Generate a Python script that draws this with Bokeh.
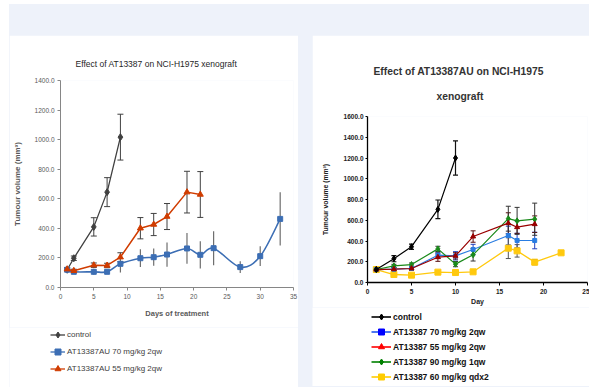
import numpy as np
from bokeh.plotting import figure
from bokeh.models import (Range1d, Legend, LegendItem, Whisker, TeeHead, ColumnDataSource,
                          Title, Spacer, FixedTicker, NumeralTickFormatter)
from bokeh.layouts import row, column
from bokeh.embed import file_html
from bokeh.resources import INLINE

# ---------------- data: left chart ----------------
l_days_ctrl = [1, 2, 5, 7, 9]
l_ctrl = [120, 198, 410, 645, 1017]
l_ctrl_err = [10, 15, 62, 98, 155]

l_days_70 = [1, 2, 5, 7, 9, 12, 14, 16, 19, 21, 23, 27, 30, 33]
l_70 = [120, 106, 106, 106, 160, 198, 205, 223, 264, 221, 266, 138, 212, 464]
l_70_err = [8, 10, 20, 12, 58, 60, 58, 82, 104, 92, 115, 40, 67, 180]

l_days_55 = [1, 2, 5, 7, 9, 12, 14, 16, 19, 21]
l_55 = [124, 113, 151, 149, 205, 401, 426, 480, 645, 629]
l_55_err = [10, 10, 15, 15, 30, 72, 75, 88, 141, 155]

l_title = "Effect of AT13387 on NCI-H1975 xenograft"
l_labels = ["control", "AT13387AU 70 mg/kg 2qw", "AT13387AU 55 mg/kg 2qw"]
l_yticks = [0, 200, 400, 600, 800, 1000, 1200, 1400]
l_xticks = [0, 5, 10, 15, 20, 25, 30, 35]

# ---------------- data: right chart ----------------
r_days_ctrl = [1, 3, 5, 8, 10]
r_ctrl = [125, 230, 345, 705, 1200]
r_ctrl_err = [10, 30, 25, 90, 165]

r_days = [1, 3, 5, 8, 10, 12, 16, 17, 19]
r_70 = [125, 128, 135, 263, 257, 318, 453, 405, 405]
r_70_err = [10, 15, 15, 30, 40, 50, 90, 70, 80]
r_55 = [125, 128, 135, 244, 257, 443, 572, 533, 562]
r_55_err = [10, 15, 15, 40, 30, 55, 100, 60, 80]
r_90 = [125, 160, 173, 324, 177, 267, 615, 594, 610]
r_90_err = [10, 15, 15, 25, 25, 60, 120, 130, 155]

r_days_60 = [1, 3, 5, 8, 10, 12, 16, 17, 19, 22]
r_60 = [125, 77, 71, 100, 96, 103, 331, 305, 196, 286]
r_60_err = [10, 10, 10, 10, 10, 10, 100, 60, 25, 10]

r_title = ["Effect of AT13387AU on NCI-H1975", "xenograft"]
r_labels = ["control", "AT13387 70 mg/kg 2qw", "AT13387 55 mg/kg 2qw",
            "AT13387 90 mg/kg 1qw", "AT13387 60 mg/kg qdx2"]
r_yticks = [0, 200, 400, 600, 800, 1000, 1200, 1400, 1600]
r_xticks = [0, 5, 10, 15, 20, 25]

FONT = "Liberation Sans"
BG = "#EEF2FA"


def err_source(x, y, e):
    y = np.array(y, dtype=float)
    e = np.array(e, dtype=float)
    return ColumnDataSource(dict(x=x, y=y, lo=y - e, hi=y + e))


def add_whisker(p, src, color, head=5, width=1):
    w = Whisker(base="x", lower="lo", upper="hi", source=src, dimension="height",
                line_color=color, line_width=width,
                upper_head=TeeHead(size=head, line_color=color, line_width=width),
                lower_head=TeeHead(size=head, line_color=color, line_width=width))
    p.add_layout(w)


def style_axes(p, color, label_color, size, weight, xticks, yticks):
    for ax in (p.xaxis[0], p.yaxis[0]):
        ax.axis_line_color = color
        ax.major_tick_line_color = color
        ax.minor_tick_line_color = None
        ax.major_tick_in = 0
        ax.major_tick_out = 3
        ax.major_label_text_font = FONT
        ax.major_label_text_font_size = size
        ax.major_label_text_font_style = weight
        ax.major_label_text_color = label_color
        ax.axis_label_text_font = FONT
        ax.axis_label_text_font_style = "bold"
        ax.axis_label_text_color = label_color
    p.xaxis[0].ticker = FixedTicker(ticks=xticks)
    p.yaxis[0].ticker = FixedTicker(ticks=yticks)
    p.yaxis[0].formatter = NumeralTickFormatter(format="0.0")
    p.xgrid.visible = False
    p.ygrid.visible = False
    p.outline_line_color = None


def legend_figure(width, height):
    # a bare figure that only carries the legend; its ranges keep the series out of view
    f = figure(width=width, height=height, output_backend="svg", toolbar_location=None,
               x_range=Range1d(-2, -1), y_range=Range1d(-2, -1), x_axis_type=None, y_axis_type=None,
               min_border=0, background_fill_color="white", border_fill_color="white",
               frame_align=False)
    f.xgrid.visible = False
    f.ygrid.visible = False
    f.outline_line_color = None
    return f


def leg_pair(p, xs, ys, color, marker, size, lw=1.3, mcolor=None):
    mcolor = mcolor or color
    lr = p.line(xs, ys, line_color=color, line_width=lw)
    sr = p.scatter(xs, ys, marker=marker, size=size, fill_color=mcolor, line_color=mcolor)
    return [lr, sr]


# ================= LEFT FIGURE =================
p1 = figure(width=289, height=292, output_backend="svg", toolbar_location=None,
            x_range=Range1d(0, 35), y_range=Range1d(0, 1400),
            min_border_left=49, min_border_right=5, min_border_top=45, min_border_bottom=40,
            background_fill_color="white", border_fill_color="white", frame_align=False)
style_axes(p1, "#868686", "#595959", "6.5px", "normal", l_xticks, l_yticks)
p1.yaxis[0].major_label_standoff = 3
p1.xaxis[0].major_label_standoff = 3
p1.xaxis.axis_label = "Days of treatment"
p1.yaxis.axis_label = "Tumour volume (mm³)"
p1.xaxis[0].axis_label_text_font_size = "7.5px"
p1.yaxis[0].axis_label_text_font_size = "8px"
p1.xaxis[0].axis_label_standoff = 7
p1.yaxis[0].axis_label_standoff = 10

p1.title.text = l_title
p1.title.align = "left"
p1.title.offset = 15
p1.title.standoff = 24
p1.title.text_font = FONT
p1.title.text_font_size = "8.5px"
p1.title.text_font_style = "normal"
p1.title.text_color = "#262626"

C_CTRL_L, C_70_L, C_55_L = "#404040", "#3C6EB4", "#D03C00"

add_whisker(p1, err_source(l_days_ctrl, l_ctrl, l_ctrl_err), "#404040", head=6)
add_whisker(p1, err_source(l_days_55, l_55, l_55_err), "#404040", head=6)
s70 = err_source(l_days_70, l_70, l_70_err)
p1.segment(x0="x", y0="lo", x1="x", y1="hi", source=s70, line_color="#6E6E6E", line_width=1.2)

p1.line(l_days_ctrl, l_ctrl, line_color=C_CTRL_L, line_width=1.3)
p1.scatter(l_days_ctrl, l_ctrl, marker="diamond", size=7, fill_color=C_CTRL_L, line_color=C_CTRL_L)

# 70 mg/kg smoothed line (bezier segments between the data points)
bx = np.array(l_days_70, dtype=float)
by = np.array(l_70, dtype=float)
n = len(bx)
i0 = np.arange(n - 1)
im = np.maximum(i0 - 1, 0)
ip2 = np.minimum(i0 + 2, n - 1)
bez = ColumnDataSource(dict(
    x0=bx[i0], y0=by[i0], x1=bx[i0 + 1], y1=by[i0 + 1],
    cx0=bx[i0] + (bx[i0 + 1] - bx[im]) / 6, cy0=by[i0] + (by[i0 + 1] - by[im]) / 6,
    cx1=bx[i0 + 1] - (bx[ip2] - bx[i0]) / 6, cy1=by[i0 + 1] - (by[ip2] - by[i0]) / 6))
p1.bezier(x0="x0", y0="y0", x1="x1", y1="y1", cx0="cx0", cy0="cy0", cx1="cx1", cy1="cy1",
          source=bez, line_color=C_70_L, line_width=1.6)
p1.scatter(l_days_70, l_70, marker="square", size=5, fill_color=C_70_L, line_color=C_70_L)

p1.line(l_days_55, l_55, line_color=C_55_L, line_width=1.5)
p1.scatter(l_days_55, l_55, marker="triangle", size=6, fill_color=C_55_L, line_color=C_55_L)

leg1 = legend_figure(289, 60)
lg1 = [LegendItem(label=l_labels[0], renderers=leg_pair(leg1, l_days_ctrl, l_ctrl, C_CTRL_L, "diamond", 6)),
       LegendItem(label=l_labels[1], renderers=leg_pair(leg1, l_days_70, l_70, C_70_L, "square", 5)),
       LegendItem(label=l_labels[2], renderers=leg_pair(leg1, l_days_55, l_55, C_55_L, "triangle", 6))]
legend1 = Legend(items=lg1, location=(41, 10), orientation="vertical",
                 glyph_width=15, glyph_height=17, label_height=17, spacing=0,
                 label_standoff=2, padding=0, margin=0,
                 border_line_color=None, background_fill_alpha=0,
                 label_text_font=FONT, label_text_font_size="8px", label_text_color="#404040")
leg1.add_layout(legend1, "center")

# ================= RIGHT FIGURE =================
p2 = figure(width=277, height=272, output_backend="svg", toolbar_location=None,
            x_range=Range1d(0, 25), y_range=Range1d(0, 1600),
            min_border_left=55, min_border_right=2, min_border_top=81, min_border_bottom=25,
            background_fill_color="white", border_fill_color="white", frame_align=False)
style_axes(p2, "#000000", "#222222", "6.5px", "bold", r_xticks, r_yticks)
p2.yaxis[0].major_tick_out = 2
p2.yaxis[0].major_label_standoff = 2
p2.xaxis[0].major_label_standoff = 3
p2.xaxis.axis_label = "Day"
p2.yaxis.axis_label = "Tumour volume (mm³)"
p2.xaxis[0].axis_label_text_font_size = "7px"
p2.yaxis[0].axis_label_text_font_size = "6.8px"
p2.xaxis[0].axis_label_standoff = 1
p2.yaxis[0].axis_label_standoff = 12
p2.xaxis[0].axis_line_width = 1.3
p2.yaxis[0].axis_line_width = 1.3

# two-line title: the title added later sits closer to the frame
p2.title.text = r_title[0]
p2.title.align = "left"
p2.title.offset = 6
p2.title.standoff = -4
p2.title.text_font = FONT
p2.title.text_font_size = "10.3px"
p2.title.text_font_style = "bold"
p2.title.text_color = "#333333"
p2.add_layout(Title(text=r_title[1], align="left", offset=69, standoff=29, text_font=FONT,
                    text_font_size="10.3px", text_font_style="bold", text_color="#333333"), "above")

C_CTRL, C_70, C_55, C_90, C_60 = "#000000", "#2A7DE1", "#990000", "#1A8A1A", "#FFC90E"

add_whisker(p2, err_source(r_days_ctrl, r_ctrl, r_ctrl_err), "#111111", head=5, width=1.2)
add_whisker(p2, err_source(r_days, r_70, r_70_err), "#1F3FBF", head=5)
add_whisker(p2, err_source(r_days, r_55, r_55_err), "#5A1010", head=5)
add_whisker(p2, err_source(r_days, r_90, r_90_err), "#333333", head=5)
add_whisker(p2, err_source(r_days_60, r_60, r_60_err), "#555555", head=5)

p2.line(r_days_60, r_60, line_color=C_60, line_width=1.3)
p2.scatter(r_days_60, r_60, marker="square", size=6, fill_color=C_60, line_color=C_60)
p2.line(r_days, r_70, line_color=C_70, line_width=1.2)
p2.scatter(r_days, r_70, marker="square", size=4, fill_color=C_70, line_color=C_70)
p2.line(r_days, r_90, line_color=C_90, line_width=1.2)
p2.scatter(r_days, r_90, marker="diamond", size=6, fill_color=C_90, line_color=C_90)
p2.line(r_days, r_55, line_color=C_55, line_width=1.2)
p2.scatter(r_days, r_55, marker="triangle", size=5, fill_color=C_55, line_color=C_55)
p2.line(r_days_ctrl, r_ctrl, line_color=C_CTRL, line_width=1.2)
p2.scatter(r_days_ctrl, r_ctrl, marker="diamond", size=6, fill_color=C_CTRL, line_color=C_CTRL)

leg2 = legend_figure(277, 79)
lg2 = [LegendItem(label=r_labels[0], renderers=leg_pair(leg2, r_days_ctrl, r_ctrl, "#000000", "diamond", 6, lw=1.6)),
       LegendItem(label=r_labels[1], renderers=leg_pair(leg2, r_days, r_70, "#2255EE", "square", 5, lw=1.6, mcolor="#0000FF")),
       LegendItem(label=r_labels[2], renderers=leg_pair(leg2, r_days, r_55, "#FF0000", "triangle", 6, lw=1.6)),
       LegendItem(label=r_labels[3], renderers=leg_pair(leg2, r_days, r_90, "#008000", "diamond", 6, lw=1.6)),
       LegendItem(label=r_labels[4], renderers=leg_pair(leg2, r_days_60, r_60, "#FFCC00", "square", 6, lw=1.6))]
legend2 = Legend(items=lg2, location=(59, 2), orientation="vertical",
                 glyph_width=20, glyph_height=15, label_height=15, spacing=0,
                 label_standoff=2, padding=0, margin=0,
                 border_line_color=None, background_fill_alpha=0,
                 label_text_font=FONT, label_text_font_size="8.5px", label_text_font_style="bold",
                 label_text_color="#111111")
leg2.add_layout(legend2, "center")

# ================= PAGE LAYOUT =================
left_pad = Spacer(width=9, height=387, styles={"background-color": "white"})
top_white = Spacer(width=580, height=4, styles={"background-color": "white"})
top_band = Spacer(width=580, height=31, styles={"background-color": BG})
gap = Spacer(width=14, height=352, styles={"background-color": BG})
left_col = column([p1, leg1], spacing=0)
right_col = column([p2, leg2, Spacer(width=277, height=1, styles={"background-color": BG})], spacing=0)
main = row([left_col, gap, right_col], spacing=0)
root = row([left_pad, column([top_white, top_band, main], spacing=0)], spacing=0,
           styles={"background-color": BG})

open("out.html", "w").write(file_html(root, INLINE))
